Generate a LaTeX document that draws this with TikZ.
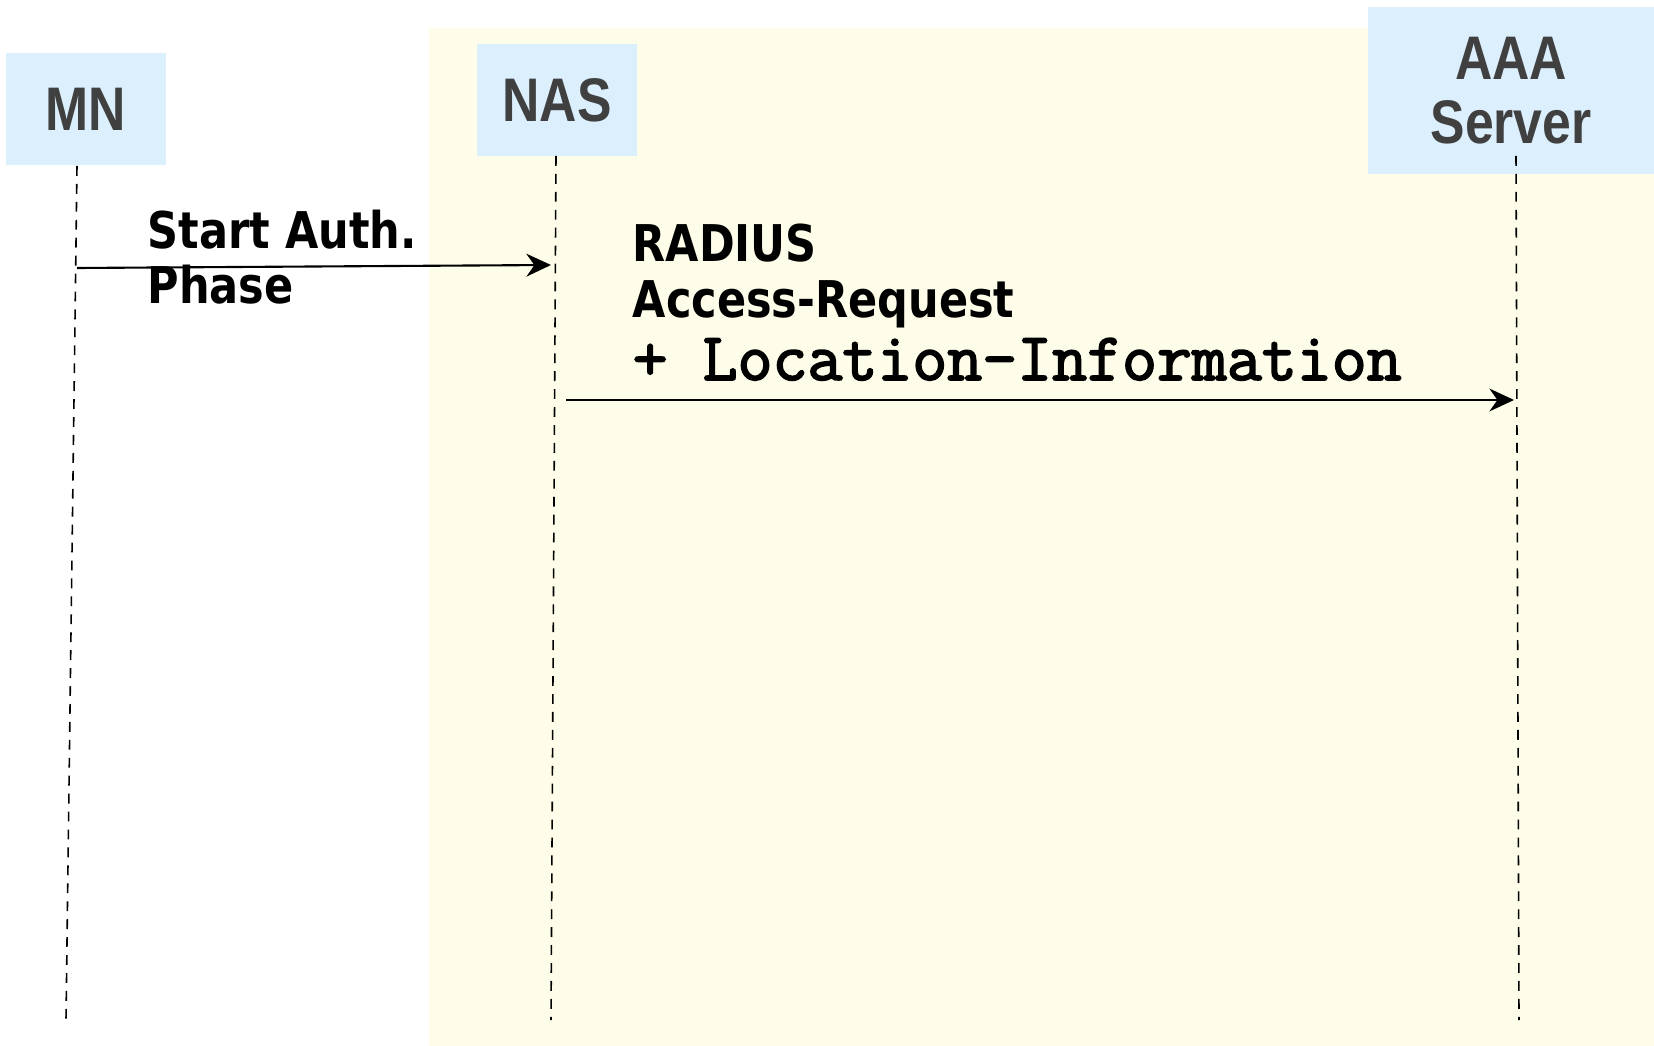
\documentclass[tikz,border=0pt]{standalone}
\usepackage{fontspec}
\usetikzlibrary{arrows.meta}
\definecolor{boxblue}{RGB}{219,239,252}
\definecolor{bgyellow}{RGB}{254,253,233}
\definecolor{hdgray}{RGB}{64,64,64}
\newfontfamily\headfont{Liberation Sans}[FakeStretch=0.84]
\newfontfamily\msgfont{DejaVu Sans}[FakeStretch=0.85]
\newfontfamily\codefont{Latin Modern Mono}[FakeBold=2.5]

\begin{document}
\begin{tikzpicture}[x=0.01cm,y=-0.01cm,
    actor/.style={fill=boxblue,inner sep=0pt,text=hdgray,align=center,
      font=\headfont\bfseries\fontsize{17.5}{18}\selectfont},
    lifeline/.style={dash pattern=on 2.8pt off 2.3pt,line width=0.45pt},
    msg/.style={-{Stealth[length=7pt,width=6.5pt]},line width=0.6pt},
    msgtext/.style={anchor=base west,inner sep=0pt,align=left,
      font=\msgfont\bfseries\fontsize{14.4}{15.8}\selectfont}]
    \useasboundingbox (0,0) rectangle (1654,1046);
    \fill [bgyellow] (429,28) rectangle (1654,1046);
    \node [actor,minimum width=1.6cm,minimum height=1.12cm] (mn) at (86,109) {MN};
    \node [actor,minimum width=1.6cm,minimum height=1.12cm] (nas) at (557,100) {NAS};
    \node [actor,minimum width=2.86cm,minimum height=1.67cm] (aaa) at (1511,90.5) {AAA\\Server};
    \coordinate (mn-top) at (77,166);
    \coordinate (mn-bot) at (66,1020);
    \coordinate (nas-top) at (556,156);
    \coordinate (nas-bot) at (551,1020);
    \coordinate (aaa-top) at (1516,156);
    \coordinate (aaa-bot) at (1519,1020);
    \draw [lifeline] (mn-top) -- (mn-bot);
    \draw [lifeline] (nas-top) -- (nas-bot);
    \draw [lifeline] (aaa-top) -- (aaa-bot);
    \coordinate (auth-s) at (77,268);
    \coordinate (auth-e) at (551,265);
    \draw [msg] (auth-s) -- (auth-e);
    \node [msgtext] (auth) at (147,304) {Start Auth.\\Phase};
    \coordinate (req-s) at (566,400);
    \coordinate (req-e) at (1514,400);
    \draw [msg] (req-s) -- (req-e);
    \node [msgtext] (req) at (632,380)
      {RADIUS\\Access-Request\\[2pt]{\codefont\fontsize{19.3}{20}\selectfont + Location-Information}};
\end{tikzpicture}
\end{document}
